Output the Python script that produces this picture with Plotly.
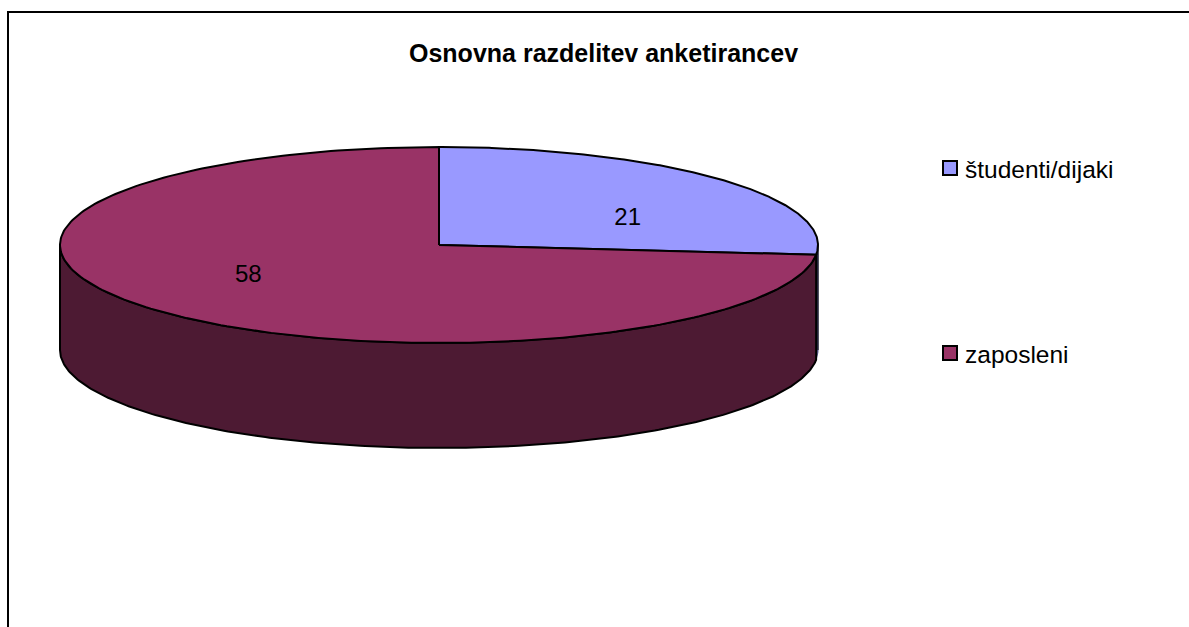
import numpy as np
import plotly.graph_objects as go

title = "Osnovna razdelitev anketirancev"
categories = ["študenti/dijaki", "zaposleni"]
values = [21, 58]
top_colors = ["#9999FF", "#993366"]
side_colors = ["#4D4D80", "#4D1A33"]

W, H = 1189, 627
CX, CY, RX, RY, DEPTH = 439, 245, 379, 98, 105
LINE = dict(color="#000000", width=2)
FONT = "Liberation Sans, Arial, sans-serif"


def rim(a0, a1, dy=0.0, n=240):
    t = np.radians(np.linspace(a0, a1, n))
    return CX + RX * np.sin(t), CY - RY * np.cos(t) + dy


fracs = np.array(values, dtype=float) / sum(values)
edges = np.concatenate([[0.0], np.cumsum(fracs) * 360.0])

fig = go.Figure()


def poly(x, y, color, line=LINE):
    fig.add_trace(go.Scatter(x=x, y=y, mode="lines", fill="toself", fillcolor=color,
                             line=line, hoverinfo="skip", showlegend=False))


# side walls (only the part facing the viewer, 90..270 degrees)
for i in range(len(values)):
    a0, a1 = max(edges[i], 90.0), min(edges[i + 1], 270.0)
    if a1 > a0:
        x0, y0 = rim(a0, a1)
        x1, y1 = rim(a1, a0, DEPTH)
        # a sliver this narrow would vanish under a black outline
        narrow = (a1 - a0) < 20
        poly(np.r_[x0, x1, x0[0]], np.r_[y0, y1, y0[0]], side_colors[i],
             dict(color=side_colors[i], width=1) if narrow else LINE)

# right silhouette edge of the cylinder
fig.add_trace(go.Scatter(x=[CX + RX, CX + RX], y=[CY, CY + DEPTH], mode="lines",
                         line=dict(color="#000000", width=1),
                         hoverinfo="skip", showlegend=False))

# top faces
for i in range(len(values)):
    x0, y0 = rim(edges[i], edges[i + 1])
    poly(np.r_[CX, x0, CX], np.r_[CY, y0, CY], top_colors[i])

# value labels
mids = np.radians((edges[:-1] + edges[1:]) / 2)
fig.add_trace(go.Scatter(
    x=CX + 0.675 * RX * np.sin(mids) - 1, y=CY - 0.43 * RY * np.cos(mids) + 2.5,
    mode="text", text=[str(v) for v in values], textposition="middle center",
    textfont=dict(family=FONT, size=24, color="#000000"),
    hoverinfo="skip", showlegend=False))

# legend
LEG_X, LEG_Y = 950, [168, 353]
fig.add_trace(go.Scatter(
    x=[LEG_X] * len(categories), y=LEG_Y, mode="markers",
    marker=dict(symbol="square", size=14, color=top_colors,
                line=dict(color="#000000", width=2)),
    hoverinfo="skip", showlegend=False))
for c, y in zip(categories, LEG_Y):
    fig.add_annotation(x=LEG_X + 13, y=y + 1, text=c, showarrow=False, xanchor="left",
                       yanchor="middle", font=dict(family=FONT, size=24.5, color="#000000"))

fig.add_annotation(x=603.5, y=52.5, text="<b>%s</b>" % title, showarrow=False,
                   xanchor="center", yanchor="middle",
                   font=dict(family=FONT, size=25, color="#000000"))

fig.add_shape(type="rect", x0=8, y0=12, x1=W + 50, y1=H + 50, layer="below",
              line=dict(color="#000000", width=2))

fig.update_xaxes(range=[0, W], visible=False, fixedrange=True)
fig.update_yaxes(range=[H, 0], visible=False, fixedrange=True)
fig.update_layout(width=W, height=H, margin=dict(l=0, r=0, t=0, b=0),
                  paper_bgcolor="white", plot_bgcolor="white", showlegend=False)

fig.write_html("out.html", config=dict(displayModeBar=False),
               post_script="document.body.style.margin='0';document.documentElement.style.overflow='hidden';")
